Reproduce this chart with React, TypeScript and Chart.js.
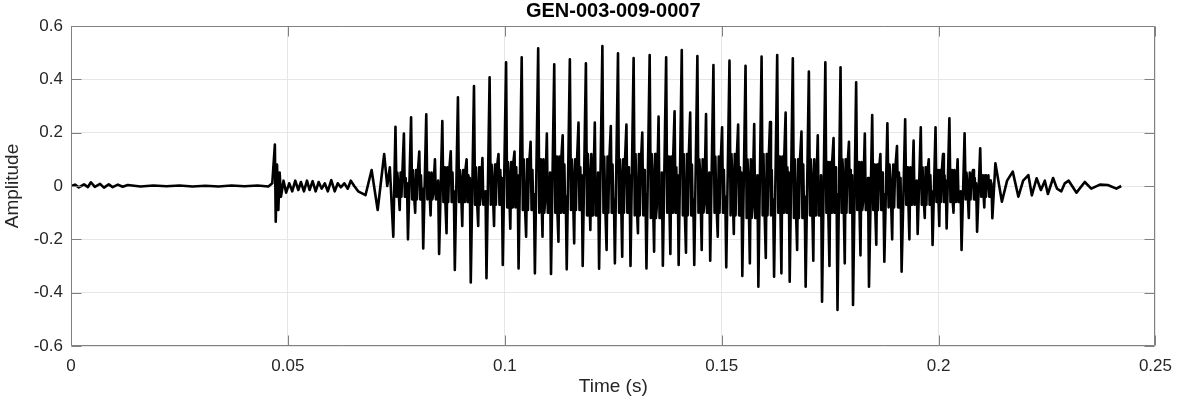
import React, { useEffect, useRef } from "react";
import { Chart, registerables } from "chart.js";

Chart.register(...registerables);

// ---- data (time in ms, amplitude) ----
const preMs = [0, 0.9, 1.8, 3.0, 3.9, 4.6, 5.5, 6.7, 7.6, 8.7, 9.6, 10.8, 11.9, 13.1, 16, 19, 22, 25, 28, 31, 34, 37, 40, 43, 45.5, 46.4, 47.0, 47.2, 47.5, 47.8, 48.1, 48.4, 49.0, 49.6, 50.3, 51.0, 51.7, 52.4, 53.0, 53.7, 54.4, 55.0, 55.7, 56.4, 57.1, 57.8, 58.5, 59.2, 60.0, 60.8, 61.5, 62.2, 63.0, 63.8, 64.5, 65.3, 66.2, 67.9, 69.3, 70.7, 72.2, 72.9, 73.5, 74.3];
const preV = [0, 0.005, -0.005, 0.006, -0.004, 0.014, -0.003, 0.008, -0.006, 0.006, -0.004, 0.005, -0.003, 0.004, -0.002, 0.002, -0.001, 0.002, -0.002, 0.001, -0.002, 0.002, -0.001, 0.002, -0.002, 0.01, 0.155, -0.134, 0.08, -0.09, 0.05, -0.04, 0.02, -0.025, 0.01, -0.02, 0.02, -0.015, 0.015, -0.02, 0.02, -0.015, 0.018, -0.02, 0.015, -0.01, 0.01, -0.02, 0.022, -0.02, 0.01, -0.005, 0.01, -0.01, 0.02, 0.0, -0.02, -0.034, 0.06, -0.09, 0.12, 0.0, 0.07, -0.19];

// voiced part: one entry per pitch period (time of the main peak)
const cycleMs = [74.8, 78.4, 81.9, 85.6, 89.2, 92.9, 96.5, 100.3, 103.9, 107.7, 111.4, 115.0, 118.7, 122.5, 126.1, 129.7, 133.4, 137.2, 140.8, 144.4, 148.1, 151.8, 155.5, 159.2, 162.8, 166.4, 170.1, 173.9, 177.4, 181.0, 184.7, 188.2, 192.3, 195.9, 199.3, 202.5, 206.0, 209.6];
const peakV = [0.222, 0.258, 0.269, 0.244, 0.333, 0.375, 0.408, 0.464, 0.4825, 0.516, 0.456, 0.475, 0.46, 0.525, 0.4975, 0.48, 0.491, 0.483, 0.51, 0.4875, 0.454, 0.47, 0.451, 0.485, 0.491, 0.479, 0.429, 0.464, 0.445, 0.389, 0.266, 0.235, 0.25, 0.22, 0.22, 0.254, 0.1975, 0.141];
const trough1V = [-0.09, -0.1, -0.11, -0.177, -0.15, -0.15, -0.15, -0.16, -0.19, -0.19, -0.209, -0.215, -0.165, -0.24, -0.265, -0.177, -0.246, -0.255, -0.25, -0.24, -0.19, -0.18, -0.29, -0.27, -0.3275, -0.24, -0.28, -0.3, -0.29, -0.26, -0.22, -0.2, -0.2, -0.12, -0.15, -0.1, -0.12, -0.08];
const peak2V = [0.197, 0.129, 0.1, 0.13, 0.1, 0.105, 0.12, 0.129, 0.166, 0.197, 0.19, 0.2375, 0.2375, 0.225, 0.23, 0.2, 0.26, 0.28, 0.275, 0.27, 0.22, 0.23, 0.2325, 0.24, 0.275, 0.204, 0.19, 0.18, 0.166, 0.197, 0.12, 0.15, 0.17, 0.1, 0.12, 0.1, 0.06, 0.04];
const trough2V = [-0.2, -0.234, -0.255, -0.315, -0.362, -0.346, -0.296, -0.309, -0.3275, -0.33, -0.3125, -0.3, -0.31, -0.29, -0.3, -0.309, -0.299, -0.296, -0.296, -0.28, -0.305, -0.3375, -0.3775, -0.34, -0.359, -0.3775, -0.434, -0.465, -0.446, -0.3775, -0.284, -0.321, -0.18, -0.221, -0.159, -0.24, -0.171, -0.121];
const rippleHi = [0.05, 0.06, 0.05, 0.07, 0.06, 0.07, 0.08, 0.09, 0.1, 0.1, 0.11, 0.1, 0.12, 0.11, 0.1, 0.12, 0.12, 0.11, 0.12, 0.1, 0.11, 0.12, 0.1, 0.12, 0.11, 0.1, 0.1, 0.09, 0.1, 0.09, 0.08, 0.08, 0.07, 0.07, 0.06, 0.06, 0.05, 0.04];
const rippleLo = [-0.04, -0.05, -0.05, -0.06, -0.06, -0.07, -0.07, -0.08, -0.09, -0.1, -0.1, -0.09, -0.11, -0.1, -0.1, -0.11, -0.12, -0.1, -0.11, -0.1, -0.1, -0.11, -0.12, -0.11, -0.1, -0.12, -0.11, -0.1, -0.1, -0.09, -0.09, -0.08, -0.07, -0.07, -0.06, -0.06, -0.05, -0.04];
const rippleMid = [0.01, -0.01, 0.02, -0.02, 0.03, -0.02, 0.03, 0.04, -0.03, 0.05, -0.04, 0.04, 0.05, -0.05, 0.04, -0.03, 0.05, 0.04, -0.05, 0.05, -0.04, 0.05, 0.04, -0.05, 0.05, -0.04, 0.04, -0.03, 0.04, 0.03, -0.03, 0.03, 0.02, -0.02, 0.02, -0.02, 0.01, 0.01];
const rippleAlt = [0.03, 0.04, -0.03, 0.05, 0.04, -0.04, 0.06, 0.07, 0.06, -0.06, 0.08, 0.07, -0.07, 0.08, 0.07, 0.06, -0.08, 0.07, 0.08, -0.07, 0.06, 0.07, -0.08, 0.06, 0.07, 0.08, -0.06, 0.07, 0.06, -0.06, 0.05, 0.05, -0.05, 0.04, 0.04, -0.04, 0.03, 0.02];

const tailMs = [213.1, 214.6, 215.8, 217.1, 218.4, 219.5, 220.7, 221.5, 222.6, 223.6, 224.5, 225.2, 226.4, 227.3, 228.3, 229.1, 230.0, 231.8, 233.7, 235.2, 237.2, 239.0, 241.0, 242.1];
const tailV = [0.085, -0.059, 0.02, 0.054, -0.04, 0.02, 0.041, -0.035, 0.029, -0.015, 0.02, -0.03, 0.03, -0.01, -0.02, 0.01, 0.02, -0.025, 0.015, -0.01, 0.005, 0.004, -0.01, 0.0];

const xTicks = [0, 0.05, 0.1, 0.15, 0.2, 0.25];
const yTicks = [-0.6, -0.4, -0.2, 0, 0.2, 0.4, 0.6];
const titleText = "GEN-003-009-0007";
const xLabel = "Time (s)";
const yLabel = "Amplitude";

function buildPoints() {
  const pts: { x: number; y: number }[] = [];
  preMs.forEach((t, i) => pts.push({ x: t / 1000, y: preV[i] }));
  cycleMs.forEach((t, i) => {
    const next = i < cycleMs.length - 1 ? cycleMs[i + 1] : tailMs[0];
    const p = next - t;
    const seq: [number, number][] = [
      [0, peakV[i]],
      [0.07, rippleLo[i]],
      [0.12, rippleHi[i]],
      [0.17, rippleMid[i]],
      [0.27, trough1V[i]],
      [0.33, rippleHi[i]],
      [0.38, rippleLo[i]],
      [0.43, rippleAlt[i]],
      [0.54, peak2V[i]],
      [0.6, rippleLo[i]],
      [0.65, rippleAlt[i]],
      [0.7, rippleLo[i]],
      [0.74, rippleMid[i]],
      [0.8, trough2V[i]],
    ];
    seq.forEach(([ph, v]) => pts.push({ x: (t + ph * p) / 1000, y: v }));
  });
  tailMs.forEach((t, i) => pts.push({ x: t / 1000, y: tailV[i] }));
  return pts;
}

const FONT = "'Liberation Sans', Arial, Helvetica, sans-serif";
const fmt = (v: number) => String(Math.round(v * 100) / 100);

const framePlugin = {
  id: "matlabFrame",
  afterDraw(chart: any) {
    const { ctx, chartArea: a, scales } = chart;
    ctx.save();
    ctx.strokeStyle = "#808080";
    ctx.lineWidth = 1;
    const L = Math.round(a.left) + 0.5;
    const R = Math.round(a.right) - 0.5;
    const T = Math.round(a.top) + 0.5;
    const B = Math.round(a.bottom) - 0.5;
    ctx.beginPath();
    ctx.rect(L, T, R - L, B - T);
    ctx.stroke();
    const tl = 10;
    ctx.beginPath();
    xTicks.forEach((v) => {
      const px = Math.round(scales.x.getPixelForValue(v)) + 0.5;
      ctx.moveTo(px, B);
      ctx.lineTo(px, B - tl);
      ctx.moveTo(px, T);
      ctx.lineTo(px, T + tl);
    });
    yTicks.forEach((v) => {
      const py = Math.round(scales.y.getPixelForValue(v)) + 0.5;
      ctx.moveTo(L, py);
      ctx.lineTo(L + tl, py);
      ctx.moveTo(R, py);
      ctx.lineTo(R - tl, py);
    });
    ctx.stroke();

    const cx = (a.left + a.right) / 2;
    ctx.fillStyle = "#000";
    ctx.font = `bold 20px ${FONT}`;
    ctx.textAlign = "center";
    ctx.textBaseline = "alphabetic";
    ctx.fillText(titleText, cx, 17);

    ctx.fillStyle = "#262626";
    ctx.font = `19px ${FONT}`;
    ctx.fillText(xLabel, cx, 392);

    ctx.translate(18, (a.top + a.bottom) / 2);
    ctx.rotate(-Math.PI / 2);
    ctx.fillText(yLabel, 0, 0);
    ctx.restore();
  },
};

export default function App() {
  const ref = useRef<HTMLCanvasElement | null>(null);
  useEffect(() => {
    document.body.style.margin = "0";
    const canvas = ref.current!;
    const chart = new Chart(canvas, {
      type: "line",
      data: {
        datasets: [
          {
            data: buildPoints(),
            borderColor: "#000000",
            borderWidth: 2.6,
            pointRadius: 0,
            tension: 0,
            fill: false,
            borderJoinStyle: "round",
          } as any,
        ],
      },
      options: {
        animation: false,
        responsive: false,
        devicePixelRatio: 1,
        layout: { padding: { top: 26, right: 21, left: 0, bottom: 0 } },
        plugins: { legend: { display: false }, tooltip: { enabled: false }, title: { display: false } },
        scales: {
          x: {
            type: "linear",
            min: 0,
            max: 0.25,
            afterBuildTicks: (s: any) => {
              s.ticks = xTicks.map((v) => ({ value: v }));
            },
            afterFit: (s: any) => {
              s.height = 58;
            },
            ticks: {
              callback: (v: any) => fmt(Number(v)),
              font: { family: FONT, size: 17 },
              color: "#262626",
              padding: 10,
              maxRotation: 0,
              autoSkip: false,
            },
            grid: { color: "#e6e6e6", drawTicks: false, lineWidth: 1 },
            border: { display: false },
          },
          y: {
            type: "linear",
            min: -0.6,
            max: 0.6,
            afterBuildTicks: (s: any) => {
              s.ticks = yTicks.map((v) => ({ value: v }));
            },
            afterFit: (s: any) => {
              s.width = 71;
            },
            ticks: {
              callback: (v: any) => fmt(Number(v)),
              font: { family: FONT, size: 17 },
              color: "#262626",
              padding: 8,
              autoSkip: false,
            },
            grid: { color: "#e6e6e6", drawTicks: false, lineWidth: 1 },
            border: { display: false },
          },
        },
      },
      plugins: [framePlugin],
    });
    return () => chart.destroy();
  }, []);
  return (
    <div style={{ position: "fixed", left: 0, top: 0, width: 1182, height: 404, background: "#fff" }}>
      <canvas ref={ref} width={1182} height={404} style={{ width: 1182, height: 404, display: "block" }} />
    </div>
  );
}
